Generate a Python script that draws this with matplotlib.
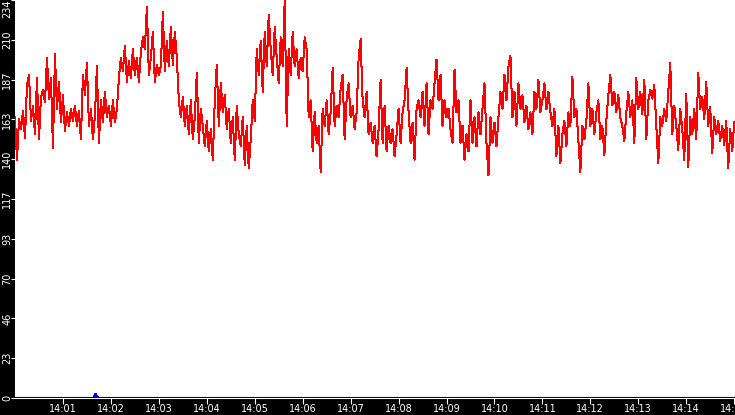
import numpy as np
import matplotlib
matplotlib.use("Agg")
import matplotlib.pyplot as plt

# sample interval in seconds, series starts at 14:00:00
step_s = 2.5

red_vals = [
    165, 140, 164, 158, 169, 153, 184, 190, 163, 172,
    155, 188, 152, 177, 181, 174, 200, 176, 188, 147,
    202, 170, 186, 162, 178, 157, 168, 160, 170, 163,
    172, 160, 169, 152, 190, 178, 197, 160, 170, 152,
    166, 195, 150, 175, 162, 180, 165, 172, 160, 175,
    162, 170, 188, 200, 192, 207, 186, 198, 188, 205,
    190, 200, 186, 203, 212, 205, 230, 190, 200, 215,
    186, 196, 190, 195, 227, 192, 210, 195, 218, 196,
    215, 200, 175, 165, 177, 160, 172, 155, 175, 152,
    165, 191, 150, 170, 160, 148, 163, 145, 158, 140,
    175, 196, 160, 185, 168, 178, 158, 170, 150, 165,
    140, 172, 155, 148, 165, 137, 160, 135, 152, 175,
    163, 205, 190, 210, 180, 215, 195, 225, 205, 190,
    218, 200, 185, 212, 195, 234, 160, 205, 190, 215,
    195, 205, 188, 200, 192, 212, 205, 165, 175, 145,
    168, 150, 160, 133, 170, 160, 175, 155, 168, 194,
    160, 172, 165, 182, 190, 152, 176, 185, 165, 172,
    158, 168, 200, 211, 175, 165, 180, 155, 162, 150,
    160, 142, 158, 187, 150, 172, 145, 160, 150, 158,
    142, 155, 170, 150, 168, 175, 194, 168, 150, 162,
    140, 170, 175, 165, 180, 160, 185, 155, 175, 170,
    185, 199, 175, 190, 160, 175, 165, 170, 158, 150,
    193, 168, 175, 150, 160, 140, 155, 145, 175, 150,
    165, 148, 168, 155, 170, 185, 150, 131, 165, 150,
    162, 148, 165, 180, 170, 190, 175, 195, 201, 165,
    180, 160, 185, 170, 178, 162, 172, 158, 168, 155,
    180, 170, 187, 168, 175, 185, 170, 180, 168, 160,
    170, 142, 160, 138, 155, 163, 148, 168, 160, 189,
    165, 170, 152, 133, 160, 152, 163, 185, 160, 170,
    155, 168, 175, 152, 160, 143, 163, 178, 190, 172,
    180, 168, 178, 165, 160, 151, 168, 180, 165, 175,
    150, 188, 170, 180, 167, 187, 152, 175, 181, 176,
    184, 160, 138, 165, 160, 170, 163, 180, 197, 155,
    172, 160, 146, 170, 158, 140, 179, 136, 165, 155,
    170, 152, 191, 170, 177, 164, 186, 160, 171, 144,
    165, 155, 163, 151, 160, 149, 163, 135, 158, 145,
    162,
]
red_t = np.arange(len(red_vals)) * step_s

# small blue blip near the bottom
blue_t = [98, 101, 104]
blue_vals = [0, 2.5, 0]

y_max = 234
y_ticks = [y_max * k / 10 for k in range(11)]
y_labels = [str(int(v)) for v in y_ticks]
x_ticks = [60 * m for m in range(1, 16)]
x_labels = ["14:%02d" % m for m in range(1, 16)]

fig = plt.figure(figsize=(7.35, 4.15), dpi=100, facecolor="black")
ax = fig.add_axes([15 / 735, 17 / 415, 720 / 735, 398 / 415])
ax.set_facecolor("white")

ax.plot(red_t, red_vals, color="#ff0000", lw=0.72, antialiased=False)
ax.plot(blue_t, blue_vals, color="#0000ff", lw=0.72, antialiased=False)

ax.set_xlim(0, 901)
ax.set_ylim(0, y_max)

ax.set_yticks(y_ticks)
ax.set_yticklabels(y_labels, rotation=90, va="center")
ax.set_xticks(x_ticks)
ax.set_xticklabels(x_labels)
ax.get_yticklabels()[-1].set_va("top")

ax.tick_params(axis="both", colors="white", labelcolor="white", labelsize=7,
               width=0.8, direction="out")
ax.tick_params(axis="y", length=3, pad=-0.9)
ax.tick_params(axis="x", length=4, pad=0.5)

for s in ["top", "right", "left"]:
    ax.spines[s].set_visible(False)
ax.spines["bottom"].set_color("white")
ax.spines["bottom"].set_linewidth(0.8)
ax.axhline(0.6, color="black", lw=0.8)

fig.savefig("out.png", dpi=100, facecolor="black")
